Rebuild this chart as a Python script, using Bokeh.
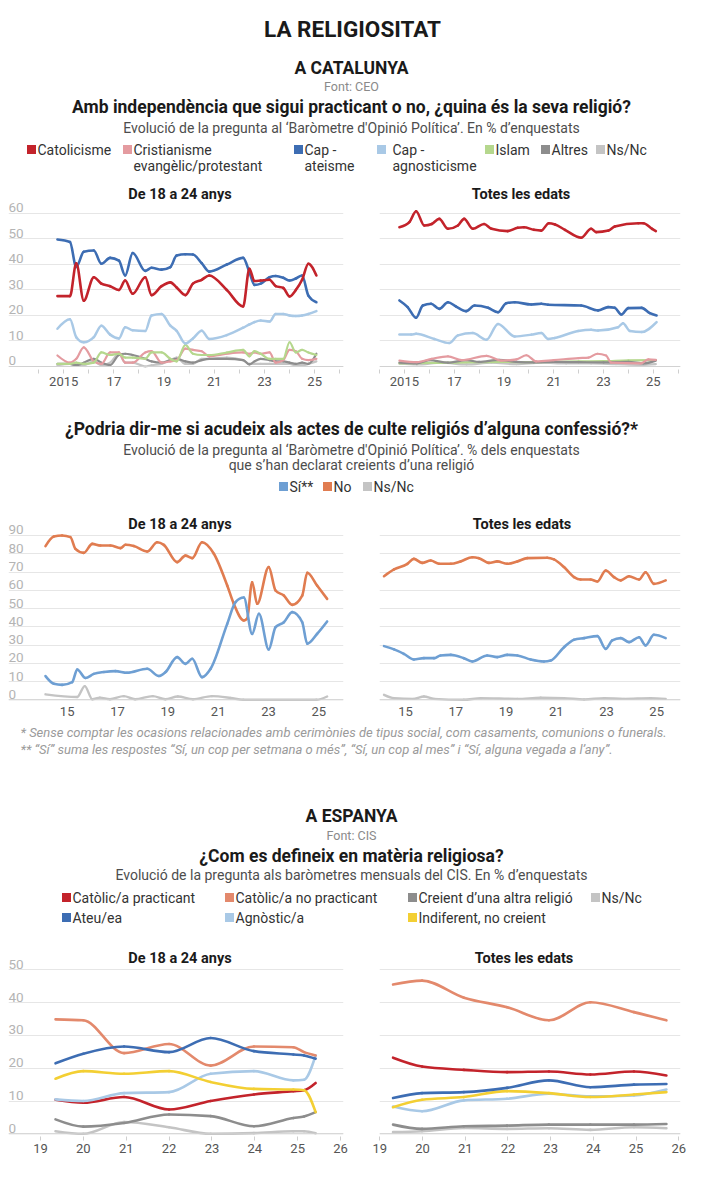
import numpy as np
from bokeh.plotting import figure
from bokeh.layouts import column, row
from bokeh.models import Range1d, FixedTicker, Span, Grid
from bokeh.core.properties import value
from bokeh.embed import file_html
from bokeh.resources import INLINE

FONT = "Roboto"

# ================= DATA =================
# --- A CATALUNYA: religion (CEO), 18-24 years (shared survey dates) ---
rel_young_dates = [2014.75, 2015.25, 2015.5, 2015.8, 2016.2, 2016.5, 2016.85, 2017.2, 2017.45, 2017.75,
                   2018.25, 2018.5, 2018.9, 2019.25, 2019.5, 2019.85, 2020.15, 2020.5, 2020.8, 2021.5,
                   2022.15, 2022.4, 2022.6, 2022.85, 2023.2, 2023.45, 2023.75, 2024.0, 2024.25, 2024.5,
                   2024.75, 2025.07]
rel_young_catol = [27.6, 27.6, 40.5, 25.8, 35.0, 32.5, 31.5, 30.0, 33.7, 28.5, 35.0, 28.0, 31.5, 33.0, 31.0,
                   28.0, 32.5, 34.0, 35.7, 30.0, 23.5, 38.3, 33.5, 33.7, 34.0, 31.5, 30.8, 27.5, 30.0, 34.0,
                   40.3, 35.7]
rel_young_ateis = [49.8, 48.8, 39.0, 45.0, 45.5, 40.3, 42.6, 41.5, 35.7, 44.5, 37.5, 38.7, 38.0, 39.0, 43.5,
                   44.0, 43.9, 40.5, 37.2, 40.0, 42.6, 37.0, 32.0, 32.5, 35.0, 35.5, 34.8, 33.7, 34.5, 35.7,
                   27.8, 25.2]
rel_young_agnos = [14.8, 18.5, 11.5, 9.5, 11.5, 16.0, 12.5, 11.0, 15.4, 14.2, 13.9, 20.0, 20.6, 16.0, 14.0,
                   9.0, 11.0, 14.0, 10.8, 12.3, 15.2, 16.5, 17.4, 18.0, 17.6, 20.6, 20.6, 20.0, 19.8, 20.0,
                   20.6, 21.7]
rel_young_evang = [4.3, 1.5, 3.0, 7.5, 2.0, 1.0, 5.5, 5.5, 1.5, 1.5, 5.5, 6.0, 1.5, 2.0, 2.5, 7.0, 6.5, 6.0,
                   4.0, 5.0, 5.5, 5.0, 5.5, 5.0, 5.5, 1.5, 2.5, 6.5, 6.0, 3.0, 2.5, 3.0]
rel_young_islam = [1.0, 1.0, 1.5, 1.0, 1.5, 5.5, 4.5, 5.0, 3.5, 3.5, 3.0, 5.5, 5.5, 3.0, 2.0, 8.5, 5.0, 4.5,
                   4.5, 5.5, 6.5, 4.0, 6.0, 5.0, 3.0, 3.0, 3.0, 9.5, 5.5, 6.5, 5.5, 4.5]
rel_young_altres = [1.0, 1.0, 0.5, 1.5, 3.0, 1.5, 0.5, 4.5, 5.0, 4.5, 3.0, 2.0, 1.5, 2.5, 3.0, 2.0, 1.5, 2.5,
                    3.0, 3.0, 2.5, 0.8, 2.0, 3.0, 2.5, 2.0, 2.0, 1.5, 1.0, 1.5, 1.0, 5.0]
rel_young_nsnc = [0.5, 1.0, 0.5, 0.5, 2.0, 0.5, 1.5, 5.0, 1.5, 1.5, 0.0, 0.5, 1.0, 2.5, 3.5, 1.0, 1.0, 3.0,
                  3.0, 3.5, 2.5, 1.0, 1.0, 1.0, 1.0, 1.0, 1.0, 1.0, 0.5, 0.5, 1.0, 2.0]

# --- A CATALUNYA: religion (CEO), all ages ---
rel_all_catol_x = [2014.8, 2015.2, 2015.47, 2015.8, 2016.1, 2016.4, 2016.75, 2017.15, 2017.4, 2017.75, 2018.2,
                   2018.5, 2019.15, 2019.55, 2019.8, 2020.2, 2020.5, 2020.8, 2021.05, 2021.45, 2022.1, 2022.5,
                   2022.7, 2023.2, 2023.45, 2024.4, 2024.6, 2024.95, 2025.1]
rel_all_catol_y = [54.6, 56.6, 60.9, 55.3, 55.9, 57.9, 54.0, 55.3, 57.9, 54.0, 55.9, 54.0, 53.1, 54.4, 54.6,
                   53.6, 53.3, 56.2, 55.7, 53.6, 50.5, 54.0, 52.7, 53.3, 54.9, 56.2, 56.2, 54.0, 53.1]
rel_all_ateis_x = [2014.8, 2015.13, 2015.47, 2015.74, 2016.07, 2016.4, 2016.75, 2017.08, 2017.48, 2017.82,
                   2018.36, 2018.76, 2019.09, 2019.43, 2020.1, 2020.5, 2020.77, 2022.1, 2022.78, 2023.18,
                   2023.45, 2023.72, 2023.99, 2024.53, 2024.86, 2025.13]
rel_all_ateis_y = [25.9, 23.3, 19.1, 23.9, 24.6, 22.6, 25.2, 23.5, 21.7, 23.9, 23.0, 21.3, 24.8, 25.2, 24.3,
                   24.6, 24.2, 23.9, 22.0, 23.3, 23.0, 20.4, 22.9, 23.0, 20.9, 20.0]
rel_all_agnos_x = [2014.8, 2015.27, 2015.47, 2016.2, 2016.8, 2017.15, 2017.75, 2018.3, 2018.76, 2019.43,
                   2020.1, 2020.5, 2020.77, 2021.04, 2021.98, 2022.5, 2022.78, 2023.58, 2023.78, 2024.06,
                   2024.53, 2025.13]
rel_all_agnos_y = [12.5, 12.5, 12.8, 10.8, 9.2, 12.2, 13.1, 10.5, 16.7, 11.8, 12.5, 13.1, 10.8, 11.2, 13.9,
                   14.4, 14.1, 15.4, 17.0, 13.9, 13.5, 17.4]
rel_all_evang_x = [2014.8, 2015.5, 2016.1, 2016.75, 2017.3, 2018.3, 2018.9, 2019.5, 2019.9, 2020.3, 2021.0,
                   2022.0, 2022.4, 2022.75, 2023.1, 2023.3, 2024.5, 2024.8, 2025.1]
rel_all_evang_y = [2.3, 1.7, 3.0, 4.0, 2.5, 4.2, 2.3, 2.8, 4.4, 2.0, 2.5, 3.3, 3.5, 5.0, 4.3, 1.5, 1.2, 2.8, 2.6]
rel_all_islam_x = [2014.8, 2016.0, 2017.0, 2018.0, 2019.0, 2020.0, 2021.0, 2022.0, 2023.0, 2024.0, 2025.1]
rel_all_islam_y = [1.2, 1.4, 1.5, 1.7, 1.8, 1.7, 1.8, 2.0, 2.1, 2.4, 2.5]
rel_all_altres_x = [2014.8, 2015.5, 2016.0, 2016.75, 2017.5, 2018.0, 2018.8, 2019.5, 2020.2, 2021.0, 2022.0,
                    2023.0, 2024.0, 2024.6, 2025.1]
rel_all_altres_y = [1.5, 1.2, 2.5, 1.5, 2.5, 1.8, 2.6, 1.8, 1.6, 1.8, 1.7, 1.6, 1.8, 1.2, 2.3]
rel_all_nsnc_x = [2014.8, 2015.5, 2016.5, 2017.5, 2018.5, 2019.5, 2020.5, 2021.5, 2022.5, 2023.5, 2024.5, 2025.1]
rel_all_nsnc_y = [1.1, 0.8, 1.5, 0.8, 1.5, 0.9, 1.5, 1.2, 1.2, 0.9, 0.6, 0.9]

# --- A CATALUNYA: attendance (CEO), 18-24 ---
att_young_no_x = [2014.14, 2014.47, 2014.8, 2015.13, 2015.33, 2015.66, 2016.0, 2016.32, 2016.72, 2017.12,
                  2017.32, 2017.65, 2018.18, 2018.58, 2018.84, 2019.37, 2019.7, 2019.97, 2020.36, 2020.83,
                  2021.36, 2021.62, 2022.02, 2022.15, 2022.35, 2022.55, 2023.01, 2023.28, 2023.61, 2023.94,
                  2024.34, 2024.54, 2024.93, 2025.33]
att_young_no_y = [84.2, 89.4, 90.0, 89.1, 82.7, 80.5, 85.4, 84.5, 84.5, 83.1, 84.9, 84.2, 81.2, 86.3, 84.9,
                  75.4, 79.0, 77.6, 86.3, 80.0, 62.6, 52.6, 43.4, 44.4, 64.4, 52.6, 72.7, 59.9, 57.1, 52.0,
                  57.1, 69.6, 62.6, 55.3]
att_young_si_x = [2014.14, 2014.47, 2014.8, 2015.2, 2015.4, 2015.73, 2016.06, 2016.46, 2016.92, 2017.38,
                  2018.18, 2018.64, 2018.91, 2019.37, 2019.7, 2019.97, 2020.36, 2020.7, 2021.36, 2021.69,
                  2022.02, 2022.35, 2022.62, 2023.01, 2023.28, 2023.61, 2023.94, 2024.34, 2024.54, 2024.93,
                  2025.33]
att_young_si_y = [13.0, 8.8, 8.2, 9.7, 16.6, 11.9, 14.2, 15.2, 15.7, 14.8, 17.0, 13.0, 15.2, 23.4, 19.7,
                  22.5, 12.4, 17.0, 41.6, 53.5, 56.0, 36.1, 47.1, 27.6, 39.8, 42.5, 48.0, 42.5, 30.7, 36.1,
                  42.9]
att_young_nsnc_x = [2014.14, 2015.4, 2015.7, 2016.0, 2016.3, 2016.7, 2017.25, 2017.7, 2018.4, 2018.9, 2019.4,
                    2020.0, 2020.75, 2021.5, 2022.0, 2024.9, 2025.33]
att_young_nsnc_y = [3.0, 1.5, 7.5, 0.3, 1.2, 0.3, 2.0, 0.3, 2.0, 0.3, 1.8, 0.3, 2.0, 1.0, 0.0, 0.0, 1.8]

# --- A CATALUNYA: attendance (CEO), all ages ---
att_all_no_x = [2014.14, 2014.54, 2015.07, 2015.33, 2015.66, 2016.0, 2016.33, 2016.8, 2017.19, 2017.66,
                2017.92, 2018.32, 2018.65, 2019.05, 2019.45, 2019.85, 2020.64, 2020.91, 2021.31, 2021.71,
                2021.97, 2022.37, 2022.64, 2022.97, 2023.3, 2023.57, 2023.9, 2024.3, 2024.56, 2024.89, 2025.36]
att_all_no_y = [67.7, 71.4, 74.5, 77.2, 75.0, 76.3, 74.5, 74.5, 75.8, 78.1, 77.6, 75.0, 75.8, 74.5, 75.8,
                77.6, 77.8, 76.9, 72.7, 67.2, 65.9, 65.9, 64.8, 70.8, 67.2, 65.4, 67.7, 65.9, 69.9, 63.5, 65.4]
att_all_si_x = [2014.14, 2014.54, 2014.93, 2015.33, 2015.73, 2016.13, 2016.39, 2016.8, 2017.32, 2017.66,
                2018.25, 2018.65, 2019.05, 2019.45, 2019.98, 2020.51, 2020.78, 2021.31, 2021.71, 2022.11,
                2022.64, 2022.97, 2023.23, 2023.57, 2023.9, 2024.3, 2024.56, 2024.89, 2025.36]
att_all_si_y = [29.4, 27.6, 25.2, 22.1, 22.8, 22.8, 24.3, 24.6, 22.8, 21.0, 24.3, 23.4, 24.6, 24.3, 22.1,
                21.0, 21.5, 28.8, 32.9, 33.8, 34.9, 27.9, 32.5, 33.8, 31.6, 34.3, 29.8, 35.6, 33.8]
att_all_nsnc_x = [2014.14, 2014.54, 2015.33, 2015.73, 2016.13, 2017.32, 2017.99, 2019.45, 2020.38, 2021.31,
                  2022.11, 2022.91, 2023.7, 2024.76, 2025.36]
att_all_nsnc_y = [2.7, 0.9, 0.5, 1.8, 0.5, 0.0, 0.9, 0.5, 1.1, 0.9, 0.2, 0.9, 0.5, 0.9, 0.5]

# --- A ESPANYA (CIS) ---
cis_young_dates = [2019.35, 2020.0, 2020.95, 2022.0, 2022.97, 2023.98, 2024.9, 2025.15, 2025.42]
cis_young_pract = [10.4, 9.5, 11.2, 7.4, 10.0, 12.0, 13.0, 13.3, 15.5]
cis_young_nopract = [34.9, 34.6, 24.6, 27.4, 20.8, 26.6, 26.4, 24.9, 23.9]
cis_young_altra = [4.4, 2.2, 3.3, 5.9, 5.4, 2.3, 4.8, 5.3, 6.6]
cis_young_nsnc = [0.8, 0.0, 3.6, 2.0, 0.0, 0.2, 0.8, 0.8, 0.2]
cis_young_ateu = [21.5, 24.4, 26.6, 24.9, 29.2, 25.2, 24.2, 23.9, 22.9]
cis_young_agnos = [10.5, 10.0, 12.4, 12.7, 18.3, 19.1, 16.3, 16.5, 23.9]
cis_young_indif = [16.8, 19.1, 18.3, 19.1, 15.8, 13.7, 13.5, 13.3, 6.6]

cis_all_dates = [2019.31, 2019.99, 2020.97, 2021.98, 2022.96, 2023.93, 2024.95, 2025.71]
cis_all_pract = [23.2, 20.5, 19.5, 18.8, 19.0, 18.1, 19.0, 17.8]
cis_all_nopract = [45.5, 46.7, 41.5, 38.6, 34.6, 40.1, 37.1, 34.6]
cis_all_altra = [2.8, 1.5, 2.3, 2.5, 2.8, 2.8, 2.8, 3.0]
cis_all_nsnc = [0.5, 0.8, 1.8, 1.5, 1.7, 1.2, 2.0, 1.7]
cis_all_ateu = [10.9, 12.4, 12.7, 14.0, 16.3, 14.2, 15.0, 15.2]
cis_all_agnos = [8.3, 6.9, 10.2, 10.7, 12.2, 11.4, 11.7, 13.5]
cis_all_indif = [8.1, 10.4, 11.2, 13.0, 12.4, 11.2, 12.0, 12.7]

# --- axis ticks / labels ---
y_ticks_rel = [0, 10, 20, 30, 40, 50, 60]
y_ticks_att = [0, 10, 20, 30, 40, 50, 60, 70, 80, 90]
y_ticks_cis = [0, 10, 20, 30, 40, 50]
x_ticks_rel = list(range(2014, 2027))
x_labels_rel = ["", "2015", "", "17", "", "19", "", "21", "", "23", "", "25", ""]
x_ticks_att = [2015, 2017, 2019, 2021, 2023, 2025]
x_labels_att = ["15", "17", "19", "21", "23", "25"]
x_ticks_cis = list(range(2019, 2027))
x_labels_cis = ["19", "20", "21", "22", "23", "24", "25", "26"]

# --- colours ---
C_RED = "#c3232b"
C_PINK = "#e49ba0"
C_BLUE = "#3d6db3"
C_LBLUE = "#a9c9e6"
C_GREEN = "#b5d78d"
C_DGREY = "#8d8d8d"
C_LGREY = "#c4c4c4"
C_SI = "#6e9fd3"
C_NO = "#e07c50"
C_SALMON = "#e3896c"
C_YELLOW = "#f3cf33"

GRID = "#e6e6e6"
ZERO = "#d2d2d2"


# ================= HELPERS =================
def monotone_tangents(x, y):
    x = np.asarray(x, float)
    y = np.asarray(y, float)
    n = len(x)
    h = np.diff(x)
    s = np.diff(y) / h
    t = np.zeros(n)
    for i in range(1, n - 1):
        h0, h1, s0, s1 = h[i - 1], h[i], s[i - 1], s[i]
        p = (s0 * h1 + s1 * h0) / (h0 + h1)
        t[i] = (np.sign(s0) + np.sign(s1)) * min(abs(s0), abs(s1), 0.5 * abs(p))
    if n > 2:
        t[0] = (3 * s[0] - t[1]) / 2
        t[-1] = (3 * s[-1] - t[-2]) / 2
    else:
        t[0] = t[-1] = s[0]
    return t


def smooth_line(p, x, y, color, width=2.5):
    t = monotone_tangents(x, y)
    x = np.asarray(x, float)
    y = np.asarray(y, float)
    dx = np.diff(x) / 3.0
    p.bezier(x0=x[:-1], y0=y[:-1], x1=x[1:], y1=y[1:],
             cx0=x[:-1] + dx, cy0=y[:-1] + dx * t[:-1],
             cx1=x[1:] - dx, cy1=y[1:] - dx * t[1:],
             line_color=color, line_width=width, line_cap="round")


def chart(width, xr, yr, mbl, mbr, height, mbb, yticks, xticks, xlabels, tickmarks, standoff,
          title, title_dx, title_dy, ylabels):
    p = figure(width=width, height=height, x_range=Range1d(*xr), y_range=Range1d(*yr),
               toolbar_location=None, output_backend="svg", y_axis_location=None,
               min_border_left=mbl, min_border_right=mbr, min_border_top=0, min_border_bottom=mbb)
    p.outline_line_color = None
    p.background_fill_color = "white"
    for g in list(p.center):
        g.visible = False
    p.add_layout(Grid(dimension=1, ticker=FixedTicker(ticks=yticks), grid_line_color=GRID, grid_line_width=1))
    p.add_layout(Span(location=0, dimension="width", line_color=ZERO, line_width=1))
    ax = p.xaxis[0]
    ax.ticker = FixedTicker(ticks=xticks)
    ax.major_label_overrides = {t: l for t, l in zip(xticks, xlabels)}
    ax.axis_line_color = None
    ax.minor_tick_line_color = None
    if tickmarks:
        ax.major_tick_line_color = "#cfcfcf"
        ax.major_tick_out = 4
        ax.major_tick_in = 0
    else:
        ax.major_tick_line_color = None
        ax.major_tick_out = 0
        ax.major_tick_in = 0
    ax.major_label_standoff = standoff
    ax.major_label_text_font = FONT
    ax.major_label_text_font_size = "13px"
    ax.major_label_text_color = "#555555"
    if ylabels:
        p.text(x=[xr[0]] * len(yticks), y=yticks, text=[str(v) for v in yticks],
               text_font=value(FONT), text_font_size="13.5px", text_color="#b4b4b4",
               text_align="left", text_baseline="bottom", y_offset=-1)
    p.text(x=[(xr[0] + xr[1]) / 2], y=[yr[1]], text=[title], x_offset=title_dx, y_offset=title_dy,
           text_font=value(FONT), text_font_size="14.5px", text_font_style="bold", text_color="#1a1a1a",
           text_align="center", text_baseline="middle")
    return p


def header(height):
    p = figure(width=702, height=height, x_range=Range1d(0, 702), y_range=Range1d(height, 0),
               toolbar_location=None, output_backend="svg", min_border=0,
               x_axis_location=None, y_axis_location=None)
    p.outline_line_color = None
    for g in list(p.center):
        g.visible = False
    return p


def txt(p, x, y, s, size, color="#1a1a1a", style="normal", align="center"):
    p.text(x=[x], y=[y], text=[s], text_font=value(FONT), text_font_size=size,
           text_font_style=style, text_color=color, text_align=align, text_baseline="middle")


def legend_item(p, sx, y, lines, color, dx=7, line_h=16):
    p.scatter(x=[sx], y=[y], marker="square", size=9, fill_color=color, line_color=None)
    for i, s in enumerate(lines):
        txt(p, sx + dx, y + i * line_h, s, "14px", color="#333333", align="left")


# ================= HEADER 1 (page y 0-180) =================
h1 = header(180)
txt(h1, 352, 28, "LA RELIGIOSITAT", "22.5px", style="bold")
txt(h1, 351, 67, "A CATALUNYA", "17.5px", style="bold")
txt(h1, 351, 86, "Font: CEO", "12.5px", color="#8a8a8a")
txt(h1, 351, 106, "Amb independència que sigui practicant o no, ¿quina és la seva religió?", "17.5px",
    style="bold")
txt(h1, 351, 127, "Evolució de la pregunta al ‘Baròmetre d'Opinió Política’. En % d’enquestats", "14px",
    color="#4d4d4d")
legend_item(h1, 31, 149, ["Catolicisme"], C_RED, dx=6)
legend_item(h1, 127, 149, ["Cristianisme", "evangèlic/protestant"], C_PINK, dx=6)
legend_item(h1, 298, 149, ["Cap -", "ateisme"], C_BLUE, dx=6)
legend_item(h1, 381, 149, ["Cap -", "agnosticisme"], C_LBLUE, dx=11)
legend_item(h1, 489, 149, ["Islam"], C_GREEN, dx=6)
legend_item(h1, 545, 149, ["Altres"], C_DGREY, dx=6)
legend_item(h1, 600, 149, ["Ns/Nc"], C_LGREY, dx=6)

# ================= ROW 1 (page y 180-392) =================
r1_left = chart(351, (2012.80, 2026.15), (-1.18, 72.94), 8, 8, 212, 23, y_ticks_rel, x_ticks_rel,
                x_labels_rel, True, 3, "De 18 a 24 anys", 4, 14, True)
for yy, c, w in [(rel_young_nsnc, C_LGREY, 2.2), (rel_young_altres, C_DGREY, 2.2),
                 (rel_young_evang, C_PINK, 2.2), (rel_young_islam, C_GREEN, 2.2),
                 (rel_young_agnos, C_LBLUE, 2.5), (rel_young_ateis, C_BLUE, 2.6), (rel_young_catol, C_RED, 2.6)]:
    smooth_line(r1_left, rel_young_dates, yy, c, w)

r1_right = chart(351, (2014.0, 2026.09), (-1.18, 72.94), 28, 22, 212, 23, y_ticks_rel, x_ticks_rel,
                 x_labels_rel, True, 3, "Totes les edats", -9, 14, False)
for xx, yy, c, w in [(rel_all_nsnc_x, rel_all_nsnc_y, C_LGREY, 2.2), (rel_all_islam_x, rel_all_islam_y, C_GREEN, 2.2),
                     (rel_all_altres_x, rel_all_altres_y, C_DGREY, 2.2), (rel_all_evang_x, rel_all_evang_y, C_PINK, 2.2),
                     (rel_all_agnos_x, rel_all_agnos_y, C_LBLUE, 2.5), (rel_all_ateis_x, rel_all_ateis_y, C_BLUE, 2.6),
                     (rel_all_catol_x, rel_all_catol_y, C_RED, 2.6)]:
    smooth_line(r1_right, xx, yy, c, w)

# ================= HEADER 2 (page y 392-505) =================
h2 = header(113)
txt(h2, 351, 36, "¿Podria dir-me si acudeix als actes de culte religiós d’alguna confessió?*", "17.5px",
    style="bold")
txt(h2, 351, 57, "Evolució de la pregunta al ‘Baròmetre d'Opinió Política’. % dels enquestats", "14px",
    color="#4d4d4d")
txt(h2, 351, 72, "que s’han declarat creients d’una religió", "14px", color="#4d4d4d")
legend_item(h2, 283, 94, ["Sí**"], C_SI, dx=6)
legend_item(h2, 327, 94, ["No"], C_NO, dx=6)
legend_item(h2, 367, 94, ["Ns/Nc"], C_LGREY, dx=6)

# ================= ROW 2 (page y 505-722) =================
r2_left = chart(351, (2012.67, 2025.98), (-1.48, 106.43), 8, 8, 217, 20, y_ticks_att, x_ticks_att,
                x_labels_att, False, 4, "De 18 a 24 anys", 4, 19, True)
smooth_line(r2_left, att_young_nsnc_x, att_young_nsnc_y, C_LGREY, 2.4)
smooth_line(r2_left, att_young_no_x, att_young_no_y, C_NO, 2.6)
smooth_line(r2_left, att_young_si_x, att_young_si_y, C_SI, 2.6)

r2_right = chart(351, (2013.96, 2025.95), (-1.48, 106.43), 28, 22, 217, 20, y_ticks_att, x_ticks_att,
                 x_labels_att, False, 4, "Totes les edats", -8, 19, False)
smooth_line(r2_right, att_all_nsnc_x, att_all_nsnc_y, C_LGREY, 2.4)
smooth_line(r2_right, att_all_no_x, att_all_no_y, C_NO, 2.6)
smooth_line(r2_right, att_all_si_x, att_all_si_y, C_SI, 2.6)

# ================= HEADER 3 (page y 722-935) =================
h3 = header(213)
txt(h3, 20, 10, "* Sense comptar les ocasions relacionades amb cerimònies de tipus social, com casaments, "
    "comunions o funerals.", "13px", color="#9a9a9a", style="italic", align="left")
txt(h3, 20, 27, "** “Sí” suma les respostes “Sí, un cop per setmana o més”, “Sí, un cop al mes” i "
    "“Sí, alguna vegada a l’any”.", "13px", color="#9a9a9a", style="italic", align="left")
txt(h3, 351, 93, "A ESPANYA", "17.5px", style="bold")
txt(h3, 351, 113, "Font: CIS", "12.5px", color="#8a8a8a")
txt(h3, 351, 133, "¿Com es defineix en matèria religiosa?", "17.5px", style="bold")
txt(h3, 351, 152, "Evolució de la pregunta als baròmetres mensuals del CIS. En % d’enquestats", "14px",
    color="#4d4d4d")
legend_item(h3, 66, 175, ["Catòlic/a practicant"], C_RED, dx=6)
legend_item(h3, 229, 175, ["Catòlic/a no practicant"], C_SALMON, dx=6)
legend_item(h3, 412, 175, ["Creient d’una altra religió"], C_DGREY, dx=6)
legend_item(h3, 595, 175, ["Ns/Nc"], C_LGREY, dx=6)
legend_item(h3, 66, 195, ["Ateu/ea"], C_BLUE, dx=6)
legend_item(h3, 229, 195, ["Agnòstic/a"], C_LBLUE, dx=6)
legend_item(h3, 412, 195, ["Indiferent, no creient"], C_YELLOW, dx=6)

# ================= ROW 3 (page y 935-1160) =================
r3_left = chart(351, (2018.253, 2026.07), (-0.82, 60.46), 8, 8, 225, 24, y_ticks_cis, x_ticks_cis,
                x_labels_cis, True, 3, "De 18 a 24 anys", 4, 23, True)
for yy, c in [(cis_young_nsnc, C_LGREY), (cis_young_altra, C_DGREY), (cis_young_pract, C_RED),
              (cis_young_agnos, C_LBLUE), (cis_young_indif, C_YELLOW), (cis_young_nopract, C_SALMON),
              (cis_young_ateu, C_BLUE)]:
    smooth_line(r3_left, cis_young_dates, yy, c, 2.6)

r3_right = chart(351, (2018.993, 2026.04), (-0.82, 60.46), 28, 22, 225, 24, y_ticks_cis, x_ticks_cis,
                 x_labels_cis, True, 3, "Totes les edats", -6, 23, False)
for yy, c in [(cis_all_nsnc, C_LGREY), (cis_all_altra, C_DGREY), (cis_all_agnos, C_LBLUE),
              (cis_all_indif, C_YELLOW), (cis_all_ateu, C_BLUE), (cis_all_pract, C_RED),
              (cis_all_nopract, C_SALMON)]:
    smooth_line(r3_right, cis_all_dates, yy, c, 2.6)

layout = column(h1, row(r1_left, r1_right), h2, row(r2_left, r2_right), h3, row(r3_left, r3_right))

with open("out.html", "w") as f:
    f.write(file_html(layout, INLINE, title="La religiositat"))
